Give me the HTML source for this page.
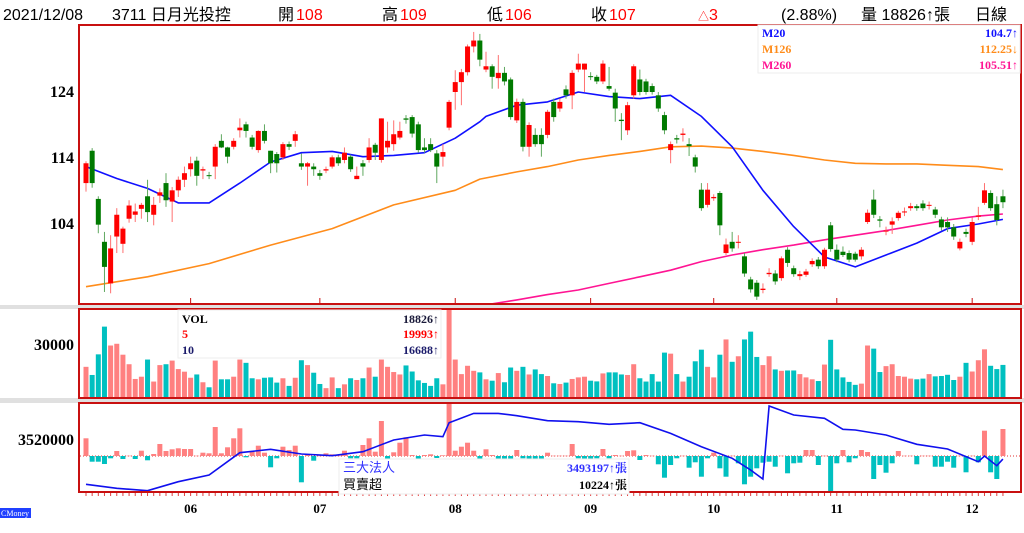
<!DOCTYPE html>
<html><head><meta charset="utf-8"><style>
html,body{margin:0;padding:0;background:#fff;}
svg{display:block;}
</style></head><body>
<svg id="chart" width="1024" height="533" viewBox="0 0 1024 533" xmlns="http://www.w3.org/2000/svg">
<defs>
<clipPath id="cpTop"><rect x="80" y="26" width="940" height="277"/></clipPath>
<clipPath id="cpVol"><rect x="80" y="310" width="940" height="87"/></clipPath>
<clipPath id="cpInst"><rect x="80" y="404" width="940" height="87"/></clipPath>
</defs>
<g font-family="Liberation Sans, Noto Sans CJK TC, sans-serif" font-size="16">
<text x="3" y="20" fill="#000">2021/12/08</text>
<text x="112" y="20" fill="#000">3711 日月光投控</text>
<text x="278" y="20"><tspan fill="#000">開</tspan><tspan fill="#f00" dx="2">108</tspan></text>
<text x="382" y="20"><tspan fill="#000">高</tspan><tspan fill="#f00" dx="2">109</tspan></text>
<text x="487" y="20"><tspan fill="#000">低</tspan><tspan fill="#f00" dx="2">106</tspan></text>
<text x="591" y="20"><tspan fill="#000">收</tspan><tspan fill="#f00" dx="2">107</tspan></text>
<text x="698" y="20" fill="#f00"><tspan font-size="11">△</tspan>3</text>
<text x="781" y="20" fill="#000">(2.88%)</text>
<text x="861" y="20" fill="#000">量 18826↑張</text>
<text x="975" y="20" fill="#000">日線</text>
</g>
<g id="panels"></g>
<g id="topg" clip-path="url(#cpTop)"></g>
<g id="volg" clip-path="url(#cpVol)"></g>
<g id="instg" clip-path="url(#cpInst)"></g>
<g id="overlay"></g>
</svg>
<script>
const O=[110.2,115.1,107.8,101.3,95.0,102.1,101.0,104.8,105.4,106.3,108.2,105.4,108.3,110.2,107.4,109.1,110.7,112.3,113.6,112.1,111.4,112.7,116.6,115.6,115.7,118.2,119.1,117.1,115.2,118.1,115.1,114.6,114.1,116.1,116.6,113.2,112.7,112.7,111.7,112.1,112.7,114.1,113.7,114.2,110.8,113.2,113.7,116.0,113.7,115.6,116.1,117.1,120.0,120.2,119.1,115.6,116.1,114.7,114.2,118.6,124.0,125.5,127.0,130.9,131.8,127.4,127.9,126.1,126.9,125.9,119.7,122.5,115.7,117.5,117.5,117.5,122.5,121.5,124.4,123.5,127.4,127.4,126.4,126.3,125.6,124.9,123.9,119.8,118.2,123.5,125.9,125.6,124.9,123.5,120.5,115.2,117.0,117.5,116.1,114.1,109.2,106.9,107.9,108.7,99.6,101.3,101.2,99.1,95.6,95.1,94.0,96.4,96.5,95.8,100.1,97.3,96.1,96.3,97.9,98.6,97.6,103.8,100.1,99.8,99.6,99.5,99.1,104.3,107.7,104.7,103.0,103.9,104.9,105.8,106.4,106.7,107.1,106.8,106.2,104.7,104.3,103.5,100.3,102.8,101.3,105.1,107.2,108.7,107.0,108.2];
const H=[113.5,115.5,108.2,102.8,102.3,106.4,103.6,107.6,107.1,107.2,110.7,108.1,109.4,111.7,109.6,111.2,112.7,114.2,114.2,112.7,111.9,116.1,117.6,115.7,117.0,120.0,119.5,117.5,118.2,119.1,115.1,114.9,116.4,116.5,118.1,114.7,113.4,113.2,112.2,112.7,114.4,114.5,115.6,114.5,112.7,113.7,117.0,116.3,120.0,119.5,119.7,119.5,120.5,120.5,119.5,117.0,117.0,115.2,116.1,122.8,127.3,127.5,131.2,133.1,132.8,130.1,128.2,129.6,127.8,126.2,123.0,123.0,119.4,118.5,118.5,121.3,123.0,123.0,125.0,127.3,129.8,128.3,127.0,126.6,128.8,127.8,124.5,120.8,122.5,128.2,127.4,126.0,125.3,124.0,121.0,116.5,117.5,118.5,117.0,114.5,110.2,110.2,108.5,109.0,101.8,102.8,102.3,99.6,96.0,95.5,95.0,97.3,97.0,99.1,100.5,97.7,96.9,97.2,98.8,99.0,100.4,104.3,100.9,100.6,100.0,99.8,100.5,106.2,109.2,105.2,103.6,105.0,106.0,106.5,107.2,107.0,107.6,107.4,106.6,105.1,105.0,104.0,101.8,103.3,105.0,106.6,110.2,109.1,108.2,109.2];
const L=[108.9,109.5,102.6,93.7,93.5,99.6,99.6,104.2,104.3,104.8,104.3,103.8,107.2,106.6,104.3,108.1,109.6,111.2,109.8,110.8,110.8,110.8,115.5,113.2,115.3,117.1,117.1,115.3,114.8,116.2,111.7,111.8,113.7,115.2,115.7,112.2,109.8,111.3,110.7,111.7,112.4,112.8,113.2,111.9,110.8,111.3,113.3,113.7,113.3,114.8,115.1,116.8,119.2,117.1,114.8,114.8,114.9,110.2,112.7,118.2,121.3,122.0,126.5,130.0,127.9,127.0,124.5,124.5,125.0,119.8,119.3,115.0,114.2,115.7,114.2,117.0,119.5,121.0,123.0,121.4,127.0,124.0,125.8,125.2,125.2,124.2,119.5,116.7,117.5,123.0,123.5,123.6,123.6,121.0,117.6,113.2,116.2,116.5,114.3,111.8,106.0,106.5,107.5,102.3,99.3,99.8,100.3,96.0,93.6,92.5,93.5,96.0,94.8,95.4,97.5,96.0,95.5,96.0,97.5,97.2,97.2,99.8,98.2,99.0,98.2,98.3,98.6,104.0,104.9,103.5,102.3,102.5,104.5,105.2,106.0,106.0,106.0,106.2,104.9,103.0,102.8,101.6,100.0,102.0,100.8,104.6,106.9,106.0,103.8,106.4];
const C=[113.2,110.2,103.9,97.5,100.3,105.4,103.3,106.8,105.9,106.9,105.8,106.9,108.8,107.6,109.1,110.7,111.7,113.2,111.3,112.3,111.3,115.7,115.6,114.2,116.6,118.6,118.1,115.7,118.1,116.6,113.2,113.2,116.1,115.7,117.6,112.7,113.2,112.3,111.3,112.3,114.1,113.2,114.8,112.3,111.3,112.7,115.6,114.8,120.0,116.6,117.6,118.1,119.8,117.7,115.2,115.2,115.2,112.7,114.9,122.5,125.5,127.0,130.9,131.8,128.9,127.9,126.3,126.9,125.6,120.2,122.5,115.7,119.0,116.1,116.1,121.0,120.2,122.5,123.5,126.9,128.3,128.3,126.3,125.6,128.3,124.5,121.5,119.6,122.0,127.9,124.0,124.0,124.0,121.5,118.2,116.1,116.8,117.7,115.8,112.7,106.4,109.2,108.1,103.8,100.9,100.3,101.3,96.5,94.1,93.0,94.2,96.6,95.3,98.8,98.1,96.4,96.4,96.8,98.4,97.6,100.1,100.2,98.6,99.3,98.6,98.6,100.1,105.7,105.4,104.5,103.0,104.4,105.7,105.9,106.7,106.4,106.4,106.9,105.4,103.5,103.5,102.1,101.3,102.5,104.3,105.3,109.1,106.4,104.6,107.3];
const VOL=[17.7,13.0,24.9,40.9,30.0,31.0,24.7,19.2,10.7,12.0,21.9,9.2,18.7,19.2,21.3,16.4,14.9,11.4,13.3,8.8,5.9,21.3,10.5,10.5,12.0,21.9,20.0,11.1,10.5,11.4,11.6,8.6,11.1,6.7,11.4,21.5,18.7,14.3,7.8,5.4,11.6,5.4,7.6,11.1,10.1,11.1,17.3,12.0,21.9,17.7,14.7,13.3,18.5,15.0,9.9,8.4,6.7,11.1,7.6,55.0,21.9,13.5,18.3,15.4,14.5,10.5,9.7,14.1,8.8,17.3,15.4,17.7,13.3,16.2,13.5,12.4,8.2,7.8,8.6,10.7,11.6,12.0,9.7,9.3,13.9,14.5,14.5,13.3,13.0,19.2,11.1,9.2,13.5,9.2,25.9,25.3,13.5,9.2,12.0,20.9,27.6,17.7,11.6,24.7,33.5,20.6,23.8,33.5,38.0,23.4,18.7,23.8,16.2,15.4,15.6,15.6,13.5,11.6,10.5,9.5,19.0,33.3,16.2,11.6,9.0,7.3,8.0,30.0,28.2,14.7,18.1,19.2,12.4,12.0,10.9,10.5,10.9,13.5,12.2,12.4,13.1,10.1,12.0,20.0,15.0,21.5,27.8,18.3,16.4,18.8];
const NET=[17.7,-5.7,-5.7,-8,-2.3,5,-3,0.3,-3,5.3,-4.3,2,12,5,6.7,7.7,7,7,0.3,3.3,2.7,29,2.7,8.7,17.7,27.7,-1.3,4.3,10.3,3.3,-11.3,-2.3,9.3,6,10.3,-26.3,1,-4.7,0.3,2.7,1.7,0.3,5.3,-2.3,-2.3,11,17.7,4.3,35,-3,3.7,13.3,18.7,1,-3,1,1.7,-2,0.7,55,5.3,9.3,13.3,5.3,-3,6.7,1,-3,-3,-3,6,-2.3,-3,-3,-3,3.3,0.3,0.3,0.3,12,-2.3,-3,-3,-2.3,7,-2.3,1,0.3,5,5.7,-4,1,0.3,-8.3,-21.7,-9,-2.3,0.3,-11.7,-6.3,-20.7,-2.3,3.3,-12.3,-20.7,0.3,-7.3,-28.3,-20.7,-12.3,-6.7,-5.7,-10.7,0.3,-17.3,-7.3,-6.7,6,6,-9,0.3,-40,-7.3,6,-6.3,-2.3,6,4,-23,-9,-16.7,-7.3,5,0.3,0.3,-8.3,0.3,0.3,-10.7,-10.7,-5.7,-11.7,0.3,-16.3,0.3,-6.3,25.3,-16.3,-23,27];
const M20_IDX=[0,5,10,15,20,25,30,35,40,45,50,55,60,64,65,70,75,80,85,90,95,100,105,110,115,120,125,130,135,140,145,149];
const M20=[112.7,110.9,109.4,107.2,107.2,110.2,113.4,114.8,115.0,114.2,114.4,114.8,117.0,119.5,120.3,122.0,122.5,124.0,123.3,123.0,123.5,120.3,115.7,109.1,103.6,99.0,97.5,99.3,101.1,103.3,104.0,104.7];
const M126_IDX=[0,10,20,30,40,50,60,64,70,75,80,85,90,95,100,105,110,115,120,125,130,135,140,145,149];
const M126=[94.5,96.0,98.0,100.8,103.3,106.9,109.1,110.8,111.9,112.7,113.7,114.4,115.0,115.7,115.8,115.5,115.0,114.4,113.7,113.2,113.1,113.1,112.9,112.7,112.25];
const M260_IDX=[62,70,75,80,85,90,95,100,105,110,115,120,125,130,135,140,145,149];
const M260=[91.3,92.5,93.3,94.0,95.0,96.0,97.0,98.3,99.3,100.1,100.8,101.6,102.3,103.0,103.8,104.6,105.2,105.51];
const HOLD_IDX=[0,5,10,15,20,25,30,35,40,45,50,55,58,59,63,67,70,75,80,85,90,95,100,105,108,110,111,115,120,123,125,130,135,140,145,146,148,149];
const HOLD=[3458000,3452400,3449000,3461600,3471000,3502200,3507000,3500400,3498000,3503600,3520000,3527000,3524600,3544200,3557300,3557300,3554000,3547000,3545600,3542000,3544200,3529300,3510600,3494400,3478000,3465400,3567600,3555000,3550400,3535000,3534000,3527000,3514000,3507400,3489600,3497600,3484000,3493197];
const MONTHS=["06","07","08","09","10","11","12"];
const MONTH_IDX=[17,38,60,82,102,122,144];
const PRICE_TICKS=[124,114,104];

(function(){
const NS="http://www.w3.org/2000/svg";
function mk(parent,tag,attrs){const e=document.createElementNS(NS,tag);for(const k in attrs)e.setAttribute(k,attrs[k]);parent.appendChild(e);return e;}
const xOf=i=>86+i*6.154;
const yP=p=>92+(124-p)*6.6;
const yV=v=>397.5-v*1.733;
const yN=v=>456-v;
const yH=v=>440-(v-3520000)/1400;

const panels=document.getElementById('panels');
let g=mk(panels,'rect',{x:0,y:305,width:1024,height:4,fill:'#e0e0e0'});


g=mk(panels,'rect',{x:0,y:398,width:1024,height:5,fill:'#e0e0e0'});


[[79,25,942,279,'price-panel'],[79,309,942,89,'volume-panel'],[79,403,942,89,'institutional-panel']].forEach(r=>{
  const e=mk(panels,'rect',{x:r[0],y:r[1],width:r[2],height:r[3],fill:'#fff',stroke:'#c81010','stroke-width':2});
  
  
});

const topG=document.getElementById('topg');
function maLine(idx,vals,color,name){
  const pts=idx.map((k,j)=>xOf(k).toFixed(1)+','+yP(vals[j]).toFixed(1)).join(' ');
  const e=mk(topG,'polyline',{points:pts,fill:'none',stroke:color,'stroke-width':1.6,'stroke-linejoin':'round'});
  
  
}
maLine(M126_IDX,M126,'#ff8c1a','ma126-line');
maLine(M260_IDX,M260,'#ff1493','ma260-line');
maLine(M20_IDX,M20,'#1010ff','ma20-line');
for(let i=0;i<C.length;i++){
  const up=C[i]>=O[i];
  const x=xOf(i);
  const w=mk(topG,'line',{x1:x,x2:x,y1:yP(H[i]),y2:yP(L[i]),stroke:up?'#ff7070':'#60a860','stroke-width':1});
  
  
  const y1=yP(Math.max(O[i],C[i])),y2=yP(Math.min(O[i],C[i]));
  const b=mk(topG,'rect',{x:x-2.5,y:y1,width:5,height:Math.max(1,y2-y1),fill:up?'#ff0000':'#007a00'});
  
  
}
const volg=document.getElementById('volg');
for(let i=0;i<VOL.length;i++){
  const up=C[i]>=O[i];
  const y=yV(VOL[i]);
  const b=mk(volg,'rect',{x:xOf(i)-2.5,y:y,width:5,height:397.5-y,fill:up?'#ff8080':'#00c0c0'});
  
  
}
const ig=document.getElementById('instg');
let bl=mk(ig,'line',{x1:80,x2:1020,y1:456,y2:456,stroke:'#e03030','stroke-width':1,'stroke-dasharray':'1,2'});


for(let i=0;i<NET.length;i++){
  const v=NET[i];
  const y=Math.min(yN(v),456),h=Math.abs(v);
  const b=mk(ig,'rect',{x:xOf(i)-2.5,y:y,width:5,height:Math.max(h,0.5),fill:v>=0?'#ff8080':'#00c0c0'});
  
  
}
const hp=HOLD_IDX.map((k,j)=>xOf(k).toFixed(1)+','+yH(HOLD[j]).toFixed(1)).join(' ');
const hl=mk(ig,'polyline',{points:hp,fill:'none',stroke:'#1010ee','stroke-width':1.6});



const ov=document.getElementById('overlay');
MONTHS.forEach((m,j)=>{
  const x=xOf(MONTH_IDX[j]);
  const t=mk(ov,'line',{x1:x,x2:x,y1:298,y2:304,stroke:'#c81010','stroke-width':1});
  
  
  const l=mk(ov,'text',{x:x,y:513,'text-anchor':'middle','font-family':'Liberation Serif, serif','font-weight':'bold','font-size':13,fill:'#000'});
  l.textContent=m;
  
  
});
for(let i=0;i<C.length;i++){
  const t=mk(ov,'line',{x1:xOf(i),x2:xOf(i),y1:493,y2:496,stroke:'#e04040','stroke-width':1});
  
  
}
PRICE_TICKS.forEach(p=>{
  const l=mk(ov,'text',{x:74,y:yP(p)+5,'text-anchor':'end','font-family':'Liberation Serif, serif','font-weight':'bold','font-size':16,fill:'#000'});
  l.textContent=p;
  
  
});

function tx(x,y,s,opt){const e=document.createElementNS(NS,'text');e.setAttribute('x',x);e.setAttribute('y',y);for(const k in opt)e.setAttribute(k,opt[k]);e.textContent=s;ov.appendChild(e);return e;}
const serifB={'font-family':'Liberation Serif, Noto Serif CJK SC, serif','font-weight':'bold'};
let e;
e=tx(74,350,'30000',Object.assign({'text-anchor':'end','font-size':16,fill:'#000'},serifB));


e=tx(74,445,'3520000',Object.assign({'text-anchor':'end','font-size':16,fill:'#000'},serifB));


const lg=mk(ov,'rect',{x:758,y:25,width:262,height:48,fill:'#fff',stroke:'#eee'});


[['M20','104.7↑','#1010ff',37],['M126','112.25↓','#ff8c1a',53],['M260','105.51↑','#ff1493',69]].forEach(r=>{
  e=tx(762,r[3],r[0],Object.assign({'font-size':12,fill:r[2]},serifB));
  
  
  e=tx(1018,r[3],r[1],Object.assign({'font-size':12,fill:r[2],'text-anchor':'end'},serifB));
  
  
});
const vb=mk(ov,'rect',{x:178,y:310,width:263,height:48,fill:'#fff',stroke:'#eee'});


[['VOL','18826↑','#000',323],['5','19993↑','#f00',338],['10','16688↑','#1a1a6a',354]].forEach(r=>{
  e=tx(182,r[3],r[0],Object.assign({'font-size':12,fill:r[2]},serifB));
  
  
  e=tx(439,r[3],r[1],Object.assign({'font-size':12,fill:r[2]==='#000'?'#1a1a3a':r[2],'text-anchor':'end'},serifB));
  
  
});
const ib=mk(ov,'rect',{x:339,y:459,width:290,height:35,fill:'#fff',stroke:'#eee'});


e=tx(343,472,'三大法人',{'font-family':'Liberation Sans, Noto Sans CJK TC, sans-serif','font-size':13,fill:'#3030ff'});


e=tx(343,489,'買賣超',{'font-family':'Liberation Sans, Noto Sans CJK TC, sans-serif','font-size':13,fill:'#000'});


e=tx(627,472,'3493197↑張',Object.assign({'font-size':12,fill:'#3030ff','text-anchor':'end'},serifB));


e=tx(627,489,'10224↑張',Object.assign({'font-size':12,fill:'#000','text-anchor':'end'},serifB));


const lr=mk(ov,'rect',{x:0,y:508,width:31,height:10,fill:'#2040ff'});


e=tx(1,516,'CMoney',{'font-family':'Liberation Serif, serif','font-size':8,fill:'#fff'});


})();
</script>
</body></html>
